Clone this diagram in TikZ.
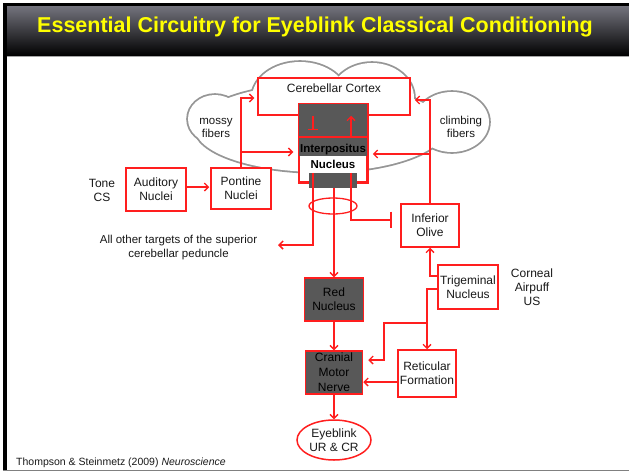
\documentclass[tikz,border=0pt]{standalone}
\usepackage{fontspec}
\setmainfont{Liberation Sans}
\usetikzlibrary{arrows.meta,shapes.geometric,calc}
\definecolor{lnred}{RGB}{255,30,30}
\definecolor{darkbox}{RGB}{88,88,88}
\definecolor{cloudgray}{RGB}{150,150,150}
\definecolor{titletop}{RGB}{118,118,128}
\definecolor{titleyellow}{RGB}{255,255,0}
\definecolor{txt}{RGB}{25,25,25}
\begin{document}
\begin{tikzpicture}[x=1pt,y=-1pt,
  every node/.style={text=txt},
  box/.style={draw=lnred, line width=1.5pt, fill=white, inner sep=0pt, align=center,
    font=\fontsize{12}{14}\selectfont},
  darkb/.style={box, fill=darkbox, text=black},
  plain/.style={inner sep=0pt, align=center, font=\fontsize{12}{14}\selectfont},
  arr/.style={draw=lnred, line width=1.4pt, -{Straight Barb[length=4pt,width=8pt,line width=1.3pt]}},
  arrthin/.style={draw=lnred, line width=1.6pt, -{Straight Barb[length=4pt,width=8pt,line width=1.3pt]}},
  arrthick/.style={draw=lnred, line width=2pt, -{Straight Barb[length=4pt,width=8pt,line width=1.5pt]}},
  redline/.style={draw=lnred, line width=1.4pt},
  inh/.style={draw=lnred, line width=1.4pt, -{Bar[width=10pt,line width=1.5pt]}},
  inhthick/.style={draw=lnred, line width=2pt, -{Bar[width=16pt,line width=2pt]}},
  cloudpart/.style={line width=3.6pt, draw=cloudgray}
]
\useasboundingbox (0,0) rectangle (629,474);
\fill[white] (0,0) rectangle (629,474);

% frame and title bar
\shade[top color=titletop, bottom color=black] (4,5) rectangle (629,56);
\fill[black] (3,3) rectangle (629,5.5);
\fill[black] (3,3) rectangle (6.5,471);
\draw[gray!70, line width=0.8pt] (6.5,56.5) -- (629,56.5);
\draw[gray, line width=1.3pt] (3,470.5) -- (629,470.5);
\node[font=\bfseries\fontsize{21.5}{24}\selectfont, text=titleyellow] (title) at (315,27)
  {Essential Circuitry for Eyeblink Classical Conditioning};

% cloud
\foreach \cx/\cy/\rx/\ry in {215/119/27/24, 300/98/48/36, 372/98/42/35, 452/122/37/30, 320/128/125/44}
  \draw[cloudpart] (\cx,\cy) ellipse [x radius=\rx pt, y radius=\ry pt];
\foreach \cx/\cy/\rx/\ry in {215/119/27/24, 300/98/48/36, 372/98/42/35, 452/122/37/30, 320/128/125/44}
  \fill[white] (\cx,\cy) ellipse [x radius=\rx pt, y radius=\ry pt];
\node[plain, font=\fontsize{11.5}{13.5}\selectfont] (mossy) at (216,128) {mossy\\fibers};
\node[plain, font=\fontsize{11.5}{13.5}\selectfont] (climb) at (461,127) {climbing\\fibers};

% cerebellar cortex
\node[box, minimum width=152pt, minimum height=37pt] (cortex) at (334,96.5) {};
\node[plain, anchor=base] (cortextext) at (334,92.5) {Cerebellar Cortex};

% interpositus nucleus
\node[box, minimum width=68pt, minimum height=78pt] (ip) at (333,143) {};
\fill[darkbox] (ip.north west) rectangle ([yshift=-53pt]ip.north east);
\draw[redline, line width=1.5pt] (ip.north west) rectangle (ip.south east);
\draw[redline, line width=1.8pt] ([yshift=-34pt]ip.north west) -- ([yshift=-34pt]ip.north east);
\node[plain, text=black, font=\bfseries\fontsize{11.5}{16}\selectfont] (iptext) at (333,156) {Interpositus\\Nucleus};
\node[fill=darkbox, minimum width=48pt, minimum height=15pt, inner sep=0pt] (ipbar) at (333,180.5) {};

\coordinate (tbarL) at (313,130);
\draw[inh] (cortex.south -| tbarL) -- (tbarL);
\coordinate (upA) at (351,138);
\draw[arr] (upA) -- (upA |- cortex.south);

% boxes
\node[plain] (tone) at (102,190) {Tone\\CS};
\node[box, minimum width=60pt, minimum height=43pt] (aud) at (156,189.5) {Auditory\\Nuclei};
\node[box, minimum width=60pt, minimum height=41pt] (pont) at (241,188.5) {Pontine\\Nuclei};
\node[box, minimum width=58pt, minimum height=43pt] (io) at (430,225.5) {Inferior\\Olive};
\node[box, minimum width=60pt, minimum height=44pt] (tri) at (468,287) {Trigeminal\\Nucleus};
\node[plain] (cornea) at (532,287) {Corneal\\Airpuff\\US};
\node[darkb, minimum width=59pt, minimum height=43pt] (rn) at (334,299.5) {Red\\Nucleus};
\node[darkb, minimum width=57pt, minimum height=43pt, font=\fontsize{12}{15}\selectfont] (cmn) at (334,372.5) {Cranial\\Motor\\Nerve};
\node[box, minimum width=58pt, minimum height=47pt] (rf) at (427,373.5) {Reticular\\Formation};
\node[box, ellipse, minimum width=74pt, minimum height=40pt] (eye) at (334,440) {Eyeblink\\UR \& CR};
\node[plain, font=\fontsize{11.5}{14}\selectfont] (others) at (178.5,248)
  {All other targets of the superior\\cerebellar peduncle};
\node[anchor=base west, inner sep=0pt, font=\fontsize{10.5}{12}\selectfont] (cite) at (16,465)
  {Thompson \& Steinmetz (2009) \textit{Neuroscience}};

% connectors
\draw[arr, shorten >=1pt] ([yshift=2.5pt]aud.east) -- ([yshift=2.5pt]aud.east -| pont.west);
\draw[arr, shorten >=3pt] (pont.north) |- ([yshift=-1.5pt]cortex.west);
\coordinate (ipL) at ([yshift=-9pt]ip.west);
\draw[arr, shorten >=5pt] (pont.north |- ipL) -- (ipL);
\draw[arr, shorten >=4pt] (io.north) |- ([yshift=-3.5pt]cortex.east);
\coordinate (ipR) at ([yshift=-11pt]ip.east);
\draw[arr, shorten >=5pt] (io.north |- ipR) -- (ipR);

\coordinate (othersarrow) at (278,245);
\draw[arrthick] ([xshift=4pt]ipbar.north west) |- (othersarrow);
\draw[inhthick, shorten >=8pt] ([xshift=-6pt]ipbar.north east) |- ([yshift=6pt]io.west);
\node[draw=lnred, ellipse, line width=1.3pt, minimum width=48pt, minimum height=16pt, inner sep=0pt] (sel) at (333,206) {};
\draw[arrthin] (ipbar.south -| rn.north) -- (rn.north);
\draw[arr] (rn.south) -- (cmn.north);
\draw[arr] (cmn.south) -- (eye.north);
\draw[arr] ([yshift=-8.5pt]rf.west) -- ([yshift=-8.5pt]rf.west -| cmn.east);
\draw[arr] ([yshift=11pt]tri.west) -| (io.south);
\coordinate (tJ) at (rf.north |- 0,323);
\coordinate (tK) at (384,360);
\draw[redline] ([yshift=-2pt]tri.west) -| (tJ);
\draw[arr] (tJ) -- (rf.north);
\draw[arr, shorten >=5pt] (tJ) -| (tK) -- (tK -| cmn.east);
\end{tikzpicture}
\end{document}
